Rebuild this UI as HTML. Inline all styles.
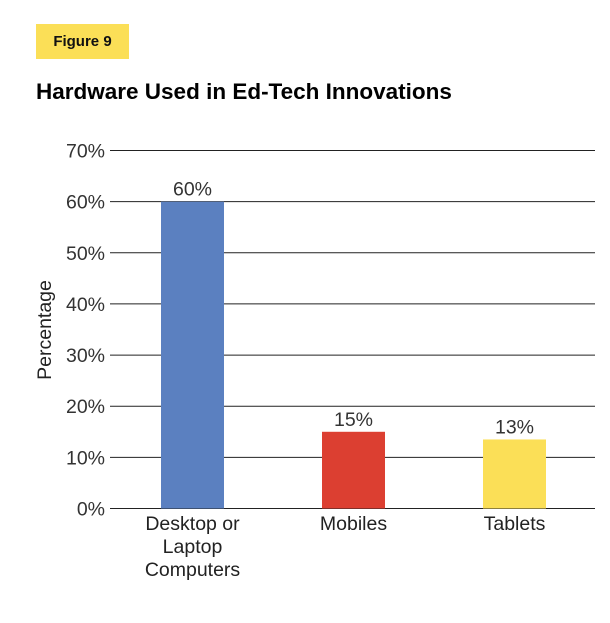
<!DOCTYPE html>
<html><head><meta charset="utf-8"><style>
body{margin:0;background:#fff;width:610px;height:623px;overflow:hidden;font-family:"Liberation Sans",sans-serif}
#fig{position:absolute;left:36px;top:24px;width:93px;height:35px;background:#fbdf57;font-weight:bold;font-size:15px;line-height:35px;text-align:center;color:#111}
#title{position:absolute;left:36px;top:79px;font-weight:bold;font-size:22.5px;color:#000}
</style></head><body>
<div id="fig">Figure 9</div>
<div id="title">Hardware Used in Ed-Tech Innovations</div>
<svg id="chart" width="610" height="623" style="position:absolute;left:0;top:0"></svg>
<script>
const categories=[["Desktop or","Laptop","Computers"],["Mobiles"],["Tablets"]];
const values=[60,15,13.5];
const valueLabels=["60%","15%","13%"];
const colors=["#5b80c0","#dc3f31","#fbdf57"];
const ticks=[0,10,20,30,40,50,60,70];
const svg=document.getElementById('chart');const NS="http://www.w3.org/2000/svg";
const x0=112,x1=595,y0=508.5,y70=150.5;
const y=v=>y0-(y0-y70)*v/70;
const band=(x1-x0)/categories.length;
const xc=i=>x0+band*(i+0.5);
function mk(t,a,txt){const e=document.createElementNS(NS,t);for(const k in a)e.setAttribute(k,a[k]);if(txt!=null)e.textContent=txt;svg.appendChild(e);return e;}
ticks.forEach(t=>{
 const l=mk('line',{x1:110,x2:x1,y1:y(t),y2:y(t),stroke:'#222','stroke-width':1});
 
 
 const tx=mk('text',{x:105,y:y(t)+7,'text-anchor':'end','font-size':19.5,fill:'#333','font-family':'Liberation Sans, sans-serif'},t+'%');
 
 
});
values.forEach((v,i)=>{
 const w=63;
 const r=mk('rect',{x:xc(i)-w/2,y:y(v),width:w,height:y0-y(v),fill:colors[i]});
 
 
 const lb=mk('text',{x:xc(i),y:y(v)-6,'text-anchor':'middle','font-size':19.5,fill:'#333','font-family':'Liberation Sans, sans-serif'},valueLabels[i]);
 
 
 categories[i].forEach((s,j)=>{
  const c=mk('text',{x:xc(i),y:530+j*23,'text-anchor':'middle','font-size':19.5,fill:'#222','font-family':'Liberation Sans, sans-serif'},s);
  
  
 });
});
const yt=mk('text',{x:0,y:0,transform:'translate(51,330) rotate(-90)','text-anchor':'middle','font-size':19.5,fill:'#222','font-family':'Liberation Sans, sans-serif'},'Percentage');


</script>
</body></html>
